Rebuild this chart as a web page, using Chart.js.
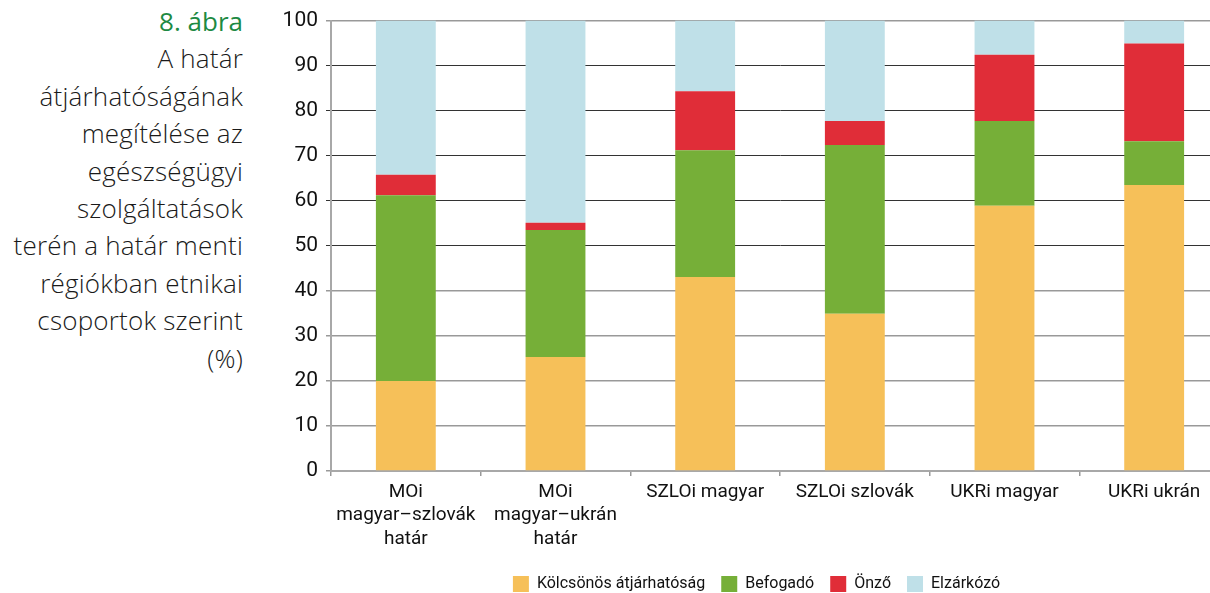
<!DOCTYPE html>
<html lang="hu">
<head>
<meta charset="utf-8">
<script src="https://cdn.jsdelivr.net/npm/chart.js@4.4.1/dist/chart.umd.min.js"></script>
<style>
  html, body { margin: 0; padding: 0; background: #fff; overflow: hidden; width: 1210px; height: 593px; }
  .caption {
    position: absolute; left: 0; top: 3px; width: 243px;
    text-align: right; font-family: "Open Sans", sans-serif; font-weight: 300;
    font-size: 26px; letter-spacing: 0.2px; line-height: 37.4px; color: #1a1a1a;
  }
  .caption .num { color: #1d8a43; font-weight: 400; letter-spacing: 0; }
  #chart { position: absolute; left: 284px; top: 0; }
</style>
</head>
<body>
<div class="caption">
  <div class="num">8. ábra</div>
  <div>A határ</div>
  <div>átjárhatóságának</div>
  <div>megítélése az</div>
  <div>egészségügyi</div>
  <div>szolgáltatások</div>
  <div>terén a határ menti</div>
  <div>régiókban etnikai</div>
  <div>csoportok szerint</div>
  <div>(%)</div>
</div>
<canvas id="chart" width="957" height="593"></canvas>
<script>
const groups = [
  ["MOi", "magyar–szlovák", "határ"],
  ["MOi", "magyar–ukrán", "határ"],
  "SZLOi magyar",
  "SZLOi szlovák",
  "UKRi magyar",
  "UKRi ukrán",
];
const kolcsonos = [20.0, 25.3, 43.1, 34.9, 58.9, 63.5];
const befogado = [41.2, 28.2, 28.1, 37.5, 18.8, 9.7];
const onzo = [4.6, 1.6, 13.1, 5.3, 14.7, 21.7];
const elzarkozo = [34.2, 44.9, 15.7, 22.3, 7.6, 5.1];
const yTicks = [0, 10, 20, 30, 40, 50, 60, 70, 80, 90, 100];

const fontFamily = "Roboto, 'Open Sans', sans-serif";

function series(label, data, color) {
  return {
    label: label,
    data: data,
    backgroundColor: color,
    borderWidth: 0,
    barPercentage: 0.4,
    categoryPercentage: 1.0,
  };
}

const ctx = document.getElementById("chart").getContext("2d");
new Chart(ctx, {
  type: "bar",
  data: {
    labels: groups,
    datasets: [
      series("Kölcsönös átjárhatóság", kolcsonos, "#f6c059"),
      series("Befogadó", befogado, "#76af38"),
      series("Önző", onzo, "#e02d38"),
      series("Elzárkózó", elzarkozo, "#bfe0e8"),
    ],
  },
  options: {
    responsive: false,
    animation: false,
    layout: { padding: { top: 14.5, right: 12, left: 0, bottom: -9 } },
    scales: {
      x: {
        stacked: true,
        grid: {
          offset: true,
          drawOnChartArea: false,
          tickLength: 5,
          color: "#999",
          lineWidth: 1.5,
        },
        border: { color: "#a8a8a8", width: 2 },
        ticks: {
          color: "#111",
          maxRotation: 0,
          autoSkip: false,
          padding: 4,
          font: { family: fontFamily, size: 19, lineHeight: 1.25 },
        },
        afterFit: (scale) => { scale.height = 89; },
      },
      y: {
        stacked: true,
        min: 0,
        max: 100,
        afterBuildTicks: (scale) => { scale.ticks = yTicks.map((v) => ({ value: v })); },
        grid: {
          tickLength: 5,
          color: (c) => (c.tick && c.tick.value >= 50 && c.tick.value < 100 ? "#333" : "#999"),
          lineWidth: (c) => (c.tick && c.tick.value >= 50 && c.tick.value < 100 ? 1 : 1.5),
        },
        border: { color: "#a8a8a8", width: 2 },
        ticks: {
          color: "#111",
          padding: 8,
          font: { family: fontFamily, size: 21 },
        },
        afterFit: (scale) => { scale.width = 47; },
      },
    },
    plugins: {
      legend: {
        position: "bottom",
        labels: {
          boxWidth: 16,
          boxHeight: 16,
          padding: 16,
          color: "#111",
          font: { family: fontFamily, size: 16 },
        },
      },
      tooltip: { enabled: false },
    },
  },
});
</script>
</body>
</html>
